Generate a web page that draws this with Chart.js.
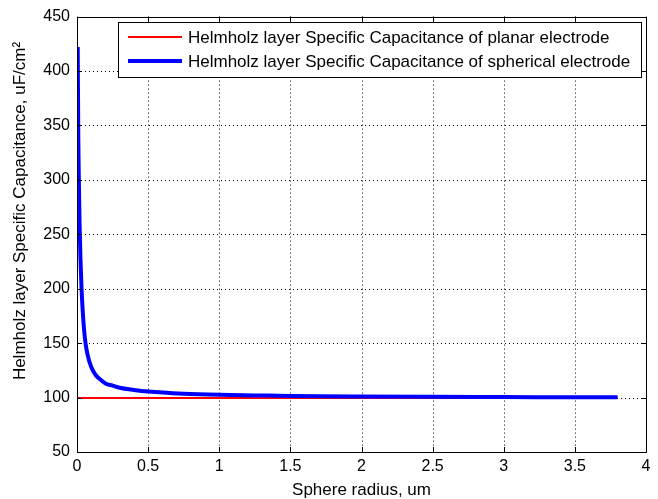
<!DOCTYPE html>
<html>
<head>
<meta charset="utf-8">
<script src="https://cdn.jsdelivr.net/npm/chart.js@4/dist/chart.umd.min.js"></script>
<style>
  html, body { margin: 0; padding: 0; background: #fff; }
  #wrap { width: 658px; height: 499px; }
</style>
</head>
<body>
<div id="wrap"><canvas id="myChart" width="658" height="499"></canvas></div>
<script>
// values
var planarX = [0, 3.8];
var planarY = [99.5, 99.5];

var sphereX = [0.005, 0.009, 0.013, 0.018, 0.025, 0.032, 0.04, 0.05, 0.06, 0.075, 0.1, 0.13, 0.16, 0.2, 0.25, 0.3, 0.4, 0.5, 0.75, 1, 1.25, 1.5, 2, 2.5, 3, 3.5, 3.8];
var sphereY = [422, 340, 300, 260, 225, 200, 180, 162, 150, 139, 128, 121, 117, 113, 111, 109, 107, 105.5, 103.5, 102.5, 102, 101.5, 101, 100.7, 100.5, 100.3, 100.2];

var xTicks = [0, 0.5, 1, 1.5, 2, 2.5, 3, 3.5, 4];
var yTicks = [50, 100, 150, 200, 250, 300, 350, 400, 450];

var labelPlanar = 'Helmholz layer Specific Capacitance of planar electrode';
var labelSphere = 'Helmholz layer Specific Capacitance of spherical electrode';
var xTitle = 'Sphere radius, um';
var yTitle = 'Helmholz layer Specific Capacitance, uF/cm\u00B2';

var FAMILY = '"Liberation Sans", Arial, sans-serif';
var FONT = '17px ' + FAMILY;

function toPoints(xs, ys) {
    return xs.map(function (x, i) { return { x: x, y: ys[i] }; });
}

// grid, box, inner ticks, legend and axis titles drawn matlab style
var matlabBits = {
    id: 'matlabBits',
    beforeDatasetsDraw: function (chart) {
        var c = chart.ctx, a = chart.chartArea;
        var sx = chart.scales.x, sy = chart.scales.y;
        c.save();
        c.strokeStyle = '#000';
        c.lineWidth = 1;
        c.setLineDash([1, 3]);
        xTicks.slice(1, -1).forEach(function (v) {
            var px = Math.round(sx.getPixelForValue(v)) + 0.5;
            c.beginPath(); c.moveTo(px, a.top); c.lineTo(px, a.bottom); c.stroke();
        });
        yTicks.slice(1, -1).forEach(function (v) {
            var py = Math.round(sy.getPixelForValue(v)) + 0.5;
            c.beginPath(); c.moveTo(a.left, py); c.lineTo(a.right, py); c.stroke();
        });
        c.restore();
    },
    afterDraw: function (chart) {
        var c = chart.ctx, a = chart.chartArea;
        var sx = chart.scales.x, sy = chart.scales.y;
        c.save();
        c.strokeStyle = '#000';
        c.lineWidth = 1;
        c.setLineDash([]);
        // box
        c.strokeRect(Math.round(a.left) + 0.5, Math.round(a.top) + 0.5,
            Math.round(a.right - a.left), Math.round(a.bottom - a.top));
        // inner ticks on all four sides
        var t = 5;
        xTicks.forEach(function (v) {
            var px = Math.round(sx.getPixelForValue(v)) + 0.5;
            c.beginPath();
            c.moveTo(px, a.bottom); c.lineTo(px, a.bottom - t);
            c.moveTo(px, a.top); c.lineTo(px, a.top + t);
            c.stroke();
        });
        yTicks.forEach(function (v) {
            var py = Math.round(sy.getPixelForValue(v)) + 0.5;
            c.beginPath();
            c.moveTo(a.left, py); c.lineTo(a.left + t, py);
            c.moveTo(a.right, py); c.lineTo(a.right - t, py);
            c.stroke();
        });

        // legend box
        var lx = 118.5, ly = 22.5, lw = 523, lh = 55;
        c.fillStyle = '#fff';
        c.fillRect(lx, ly, lw, lh);
        c.strokeRect(lx, ly, lw, lh);
        c.font = FONT;
        c.textBaseline = 'middle';
        c.textAlign = 'left';
        chart.data.datasets.forEach(function (ds, i) {
            var yy = 37 + i * 24;
            c.strokeStyle = ds.borderColor;
            c.lineWidth = ds.borderWidth;
            c.beginPath(); c.moveTo(128, yy); c.lineTo(182, yy); c.stroke();
            c.fillStyle = '#000';
            c.fillText(ds.label, 188, yy + 1);
        });

        // axis titles
        c.fillStyle = '#000';
        c.textAlign = 'center';
        c.fillText(xTitle, (a.left + a.right) / 2, 490);
        c.translate(20, 211);
        c.rotate(-Math.PI / 2);
        c.fillText(yTitle, 0, 0);
        c.restore();
    }
};

var ctx = document.getElementById('myChart').getContext('2d');
var chart = new Chart(ctx, {
    type: 'scatter',
    data: {
        datasets: [{
            label: labelPlanar,
            data: toPoints(planarX, planarY),
            borderColor: '#ff0000',
            borderWidth: 2,
            showLine: true,
            pointRadius: 0,
            order: 1
        }, {
            label: labelSphere,
            data: toPoints(sphereX, sphereY),
            borderColor: '#0000ff',
            borderWidth: 4,
            showLine: true,
            pointRadius: 0,
            cubicInterpolationMode: 'monotone',
            order: 0
        }]
    },
    options: {
        responsive: false,
        animation: false,
        layout: { padding: { top: 15, right: 12, left: 0, bottom: 0 } },
        plugins: {
            legend: { display: false },
            tooltip: { enabled: false }
        },
        scales: {
            x: {
                type: 'linear',
                min: 0, max: 4,
                afterFit: function (s) { s.height = 47; },
                afterBuildTicks: function (s) { s.ticks = xTicks.map(function (v) { return { value: v }; }); },
                grid: { display: false, drawTicks: false },
                border: { display: false },
                ticks: {
                    color: '#000', font: { family: FAMILY, size: 16 }, padding: 5, maxRotation: 0,
                    callback: function (v) { return String(v); }
                }
            },
            y: {
                type: 'linear',
                min: 50, max: 450,
                afterFit: function (s) { s.width = 77; },
                afterBuildTicks: function (s) { s.ticks = yTicks.map(function (v) { return { value: v }; }); },
                grid: { display: false, drawTicks: false },
                border: { display: false },
                ticks: {
                    color: '#000', font: { family: FAMILY, size: 16 }, padding: 7,
                    callback: function (v) { return String(v); }
                }
            }
        }
    },
    plugins: [matlabBits]
});
</script>
</body>
</html>
